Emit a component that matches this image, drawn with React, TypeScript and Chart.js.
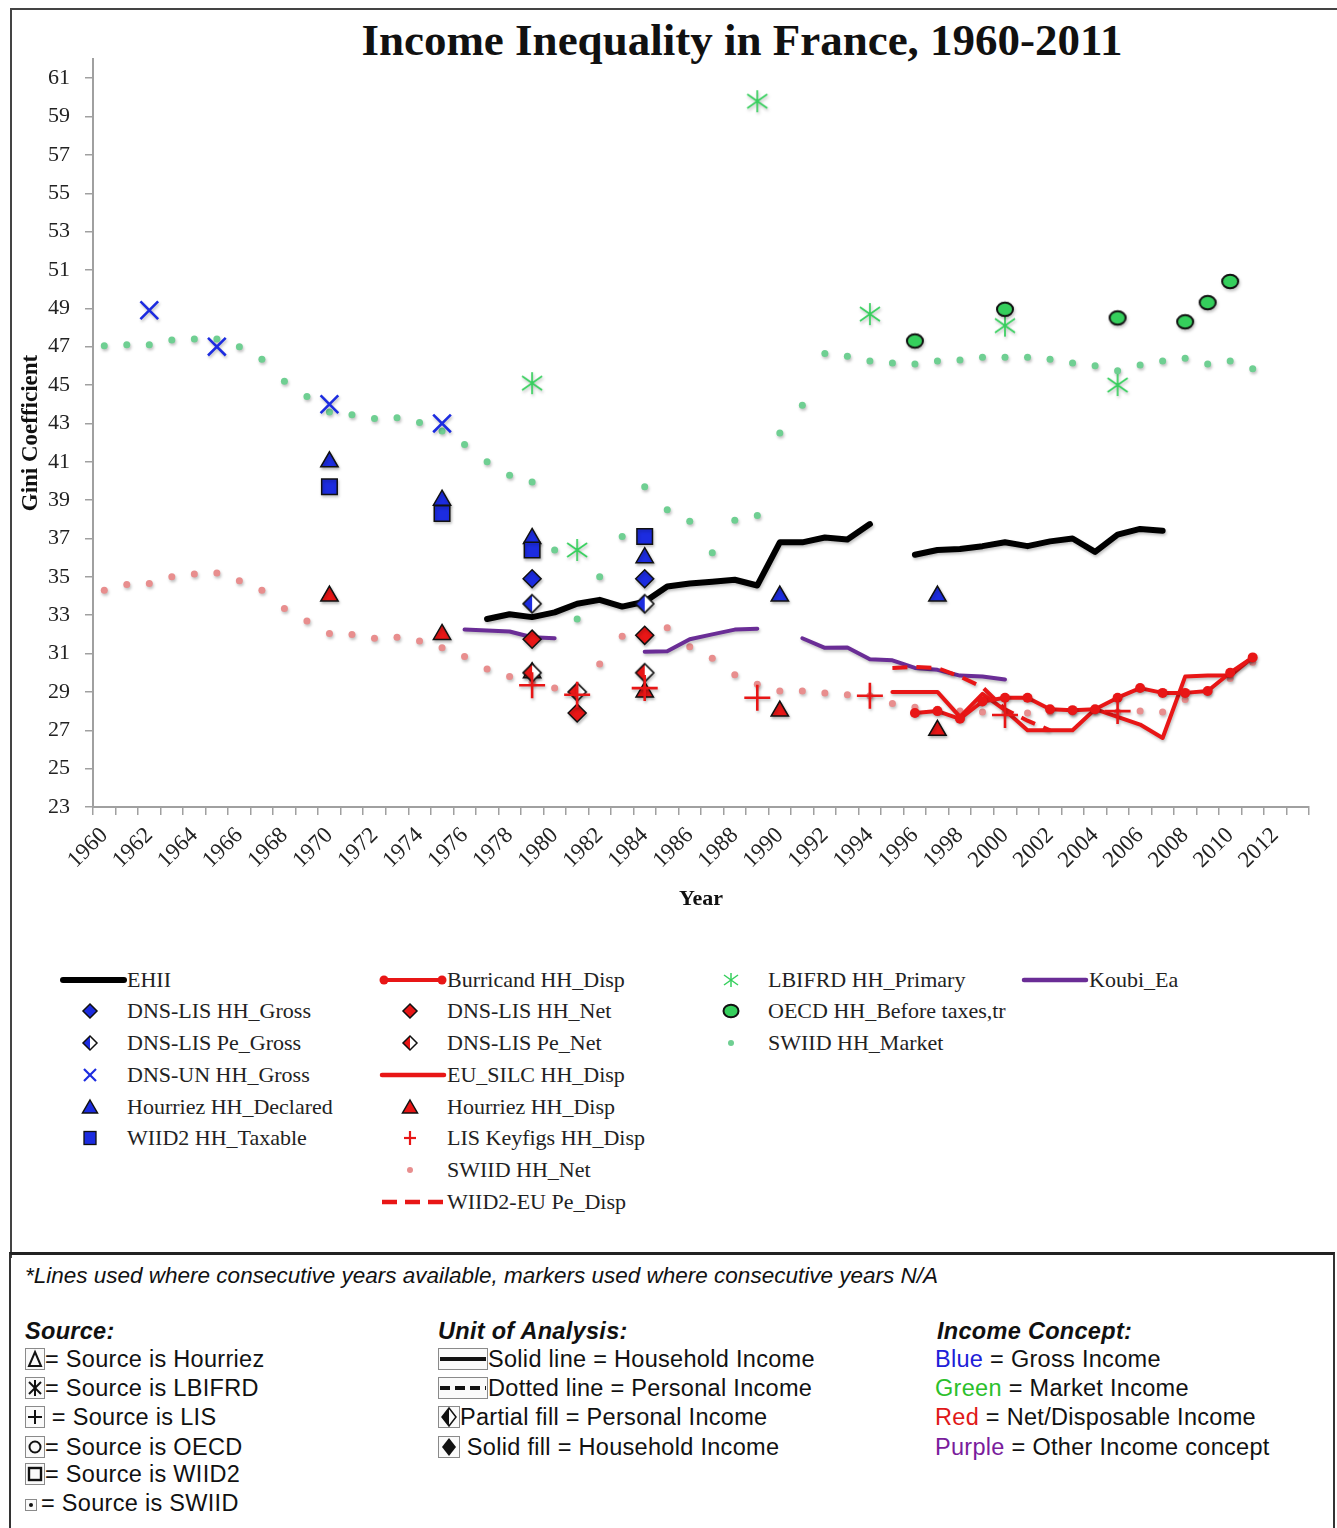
import React, { useEffect, useRef } from 'react';
import { Chart, registerables } from 'chart.js';

Chart.register(...registerables);

// ---------- categories & ticks ----------
const yearLabels = [
  '1960', '1961', '1962', '1963', '1964', '1965', '1966', '1967', '1968', '1969',
  '1970', '1971', '1972', '1973', '1974', '1975', '1976', '1977', '1978', '1979',
  '1980', '1981', '1982', '1983', '1984', '1985', '1986', '1987', '1988', '1989',
  '1990', '1991', '1992', '1993', '1994', '1995', '1996', '1997', '1998', '1999',
  '2000', '2001', '2002', '2003', '2004', '2005', '2006', '2007', '2008', '2009',
  '2010', '2011', '2012', '2013',
];
const yTicks = [23, 25, 27, 29, 31, 33, 35, 37, 39, 41, 43, 45, 47, 49, 51, 53, 55, 57, 59, 61];

// ---------- series ----------
const swiidYears = yearLabels.slice(0, 52);
const swiidMarket = [
  47.05, 47.1, 47.1, 47.35, 47.4, 47.4, 47.0, 46.35, 45.2, 44.4,
  43.6, 43.45, 43.25, 43.3, 43.05, 42.6, 41.9, 41.0, 40.3, 39.95,
  36.4, 32.8, 35.0, 37.1, 39.7, 38.5, 37.9, 36.25, 37.95, 38.2,
  42.5, 43.95, 46.65, 46.5, 46.25, 46.15, 46.1, 46.25, 46.3, 46.45,
  46.45, 46.45, 46.35, 46.15, 46.0, 45.75, 46.05, 46.25, 46.4, 46.1,
  46.25, 45.85,
];
const swiidNet = [
  34.3, 34.6, 34.65, 35.0, 35.15, 35.2, 34.8, 34.3, 33.35, 32.7,
  32.05, 32.0, 31.8, 31.85, 31.65, 31.3, 30.85, 30.2, 29.8, 29.5,
  29.2, 29.1, 30.45, 31.9, 33.8, 32.35, 31.35, 30.75, 29.9, 29.4,
  29.05, 29.05, 28.95, 28.85, 28.8, 28.4, 28.2, 28.1, 28.0, 27.95,
  27.9, 27.9, 27.95, 27.95, 28.0, 27.95, 28.0, 27.95, 28.6, 29.0,
  29.7, 30.55,
];

const ehiiYears = [1977, 1978, 1979, 1980, 1981, 1982, 1983, 1984, 1985, 1986, 1987, 1988, 1989, 1990, 1991, 1992, 1993, 1994, 1995, 1996, 1997, 1998, 1999, 2000, 2001, 2002, 2003, 2004, 2005, 2006, 2007];
const ehiiValues = [32.8, 33.05, 32.9, 33.15, 33.6, 33.8, 33.45, 33.7, 34.5, 34.65, 34.75, 34.85, 34.55, 36.8, 36.8, 37.05, 36.95, 37.75, null, 36.15, 36.4, 36.45, 36.6, 36.8, 36.6, 36.85, 37.0, 36.3, 37.2, 37.5, 37.4];

const koubiYears = [1976, 1977, 1978, 1979, 1980, 1981, 1982, 1983, 1984, 1985, 1986, 1987, 1988, 1989, 1990, 1991, 1992, 1993, 1994, 1995, 1996, 1997, 1998, 1999, 2000];
const koubiValues = [32.25, 32.2, 32.15, 31.85, 31.8, null, null, null, 31.1, 31.12, 31.75, 32.0, 32.25, 32.3, null, 31.8, 31.3, 31.32, 30.7, 30.65, 30.25, 30.15, 29.85, 29.8, 29.65];

const burricandYears = [1996, 1997, 1998, 1999, 2000, 2001, 2002, 2003, 2004, 2005, 2006, 2007, 2008, 2009, 2010, 2011];
const burricandValues = [27.9, 28.0, 27.6, 28.5, 28.7, 28.7, 28.1, 28.05, 28.1, 28.7, 29.2, 28.95, 28.95, 29.05, 30.0, 30.8];

const euSilcYears = [1995, 1996, 1997, 1998, 1999, 2000, 2001, 2002, 2003, 2004, 2005, 2006, 2007, 2008, 2009, 2010, 2011];
const euSilcValues = [29.0, 29.0, 29.0, 27.7, 28.9, 28.05, 27.0, 27.0, 27.0, 28.1, 27.7, 27.3, 26.6, 29.8, 29.85, 29.85, 30.8];

const wiidEuYears = [1995, 1996, 1997, 1998, 1999, 2000, 2001, 2002];
const wiidEuValues = [30.25, 30.3, 30.25, 29.8, 29.25, 28.1, 27.5, 27.0];

const lisYears = [1979, 1981, 1984, 1989, 1994, 2000, 2005];
const lisValues = [29.35, 28.85, 29.2, 28.7, 28.8, 27.8, 28.0];

const hourDispYears = [1970, 1975, 1979, 1984, 1990, 1997];
const hourDispValues = [34.0, 32.0, 30.0, 29.0, 28.0, 27.0];

const hourDeclYears = [1970, 1975, 1979, 1984, 1990, 1997];
const hourDeclValues = [41.0, 39.0, 37.0, 36.0, 34.0, 34.0];

const wiidTaxYears = [1970, 1975, 1979, 1984];
const wiidTaxValues = [39.7, 38.3, 36.4, 37.1];

const lisHhGrossYears = [1979, 1984];
const lisHhGrossValues = [34.9, 34.9];

const lisPeGrossYears = [1979, 1984];
const lisPeGrossValues = [33.6, 33.6];

const lisHhNetYears = [1979, 1981, 1984];
const lisHhNetValues = [31.75, 27.9, 31.95];

const lisPeNetYears = [1979, 1981, 1984];
const lisPeNetValues = [30.0, 29.0, 30.0];

const unGrossYears = [1962, 1965, 1970, 1975];
const unGrossValues = [48.9, 47.0, 44.0, 43.0];

const lbifrdYears = [1979, 1981, 1989, 1994, 2000, 2005];
const lbifrdValues = [45.1, 36.4, 59.8, 48.7, 48.1, 45.0];

const oecdYears = [1996, 2000, 2005, 2008, 2009, 2010];
const oecdValues = [47.3, 48.95, 48.5, 48.3, 49.3, 50.4];

// ---------- colours ----------
const BLUE = '#1c2ce0';
const RED = '#e81616';
const GREEN = '#35cf5c';
const PURPLE = '#6a2d96';
const SWIID_GREEN = '#6fcf92';
const SWIID_PINK = '#e88e8e';
const SERIF = '"Liberation Serif", "Times New Roman", serif';
const SANS = '"Liberation Sans", Arial, sans-serif';

const pts = (years: (number | string)[], vals: (number | null)[]) =>
  years.map((y, i) => ({ x: String(y), y: vals[i] }));

function mkCanvas(w: number, h: number) {
  const c = document.createElement('canvas');
  c.width = w;
  c.height = h;
  return c;
}

function halfDiamond(color: string, r: number) {
  const s = r * 2 + 4;
  const c = mkCanvas(s, s);
  const ctx = c.getContext('2d')!;
  const m = s / 2;
  ctx.beginPath();
  ctx.moveTo(m, m - r);
  ctx.lineTo(m - r, m);
  ctx.lineTo(m, m + r);
  ctx.closePath();
  ctx.fillStyle = color;
  ctx.fill();
  ctx.beginPath();
  ctx.moveTo(m, m - r);
  ctx.lineTo(m + r, m);
  ctx.lineTo(m, m + r);
  ctx.closePath();
  ctx.fillStyle = '#ffffff';
  ctx.fill();
  ctx.beginPath();
  ctx.moveTo(m, m - r);
  ctx.lineTo(m + r, m);
  ctx.lineTo(m, m + r);
  ctx.lineTo(m - r, m);
  ctx.closePath();
  ctx.strokeStyle = '#111';
  ctx.lineWidth = 1.6;
  ctx.stroke();
  return c;
}

function asterisk(color: string) {
  const c = mkCanvas(24, 24);
  const ctx = c.getContext('2d')!;
  ctx.strokeStyle = color;
  ctx.lineWidth = 1.7;
  ctx.beginPath();
  ctx.moveTo(12, 1);
  ctx.lineTo(12, 23);
  ctx.moveTo(2, 5);
  ctx.lineTo(22, 19);
  ctx.moveTo(2, 19);
  ctx.lineTo(22, 5);
  ctx.stroke();
  return c;
}

function ellipseMarker(color: string) {
  const c = mkCanvas(22, 19);
  const ctx = c.getContext('2d')!;
  ctx.beginPath();
  ctx.ellipse(11, 9.5, 8, 6.7, 0, 0, Math.PI * 2);
  ctx.fillStyle = color;
  ctx.fill();
  ctx.lineWidth = 2;
  ctx.strokeStyle = '#111';
  ctx.stroke();
  return c;
}

const shadowPlugin = {
  id: 'softShadow',
  beforeDatasetsDraw(chart: any) {
    const ctx = chart.ctx;
    ctx.save();
    ctx.shadowColor = 'rgba(0,0,0,0.25)';
    ctx.shadowBlur = 3;
    ctx.shadowOffsetX = 1;
    ctx.shadowOffsetY = 2;
  },
  afterDatasetsDraw(chart: any) {
    chart.ctx.restore();
  },
};

// ---------- legend sample drawing ----------
function Sample({ kind, color }: { kind: string; color: string }) {
  const c = 30;
  const m = 12;
  let el: any = null;
  switch (kind) {
    case 'thick':
      el = <line x1={3} y1={m} x2={64} y2={m} stroke={color} strokeWidth={6} strokeLinecap="round" />;
      break;
    case 'line':
      el = <line x1={2} y1={m} x2={64} y2={m} stroke={color} strokeWidth={4.5} strokeLinecap="round" />;
      break;
    case 'lineDots':
      el = (
        <g>
          <line x1={4} y1={m} x2={62} y2={m} stroke={color} strokeWidth={4} />
          <circle cx={4} cy={m} r={4.5} fill={color} />
          <circle cx={62} cy={m} r={4.5} fill={color} />
        </g>
      );
      break;
    case 'dash':
      el = <line x1={2} y1={m} x2={64} y2={m} stroke={color} strokeWidth={4.5} strokeDasharray="15 8" />;
      break;
    case 'diamond':
      el = <polygon points={`${c},${m - 7} ${c + 7},${m} ${c},${m + 7} ${c - 7},${m}`} fill={color} stroke="#111" strokeWidth={1.5} />;
      break;
    case 'half':
      el = (
        <g>
          <polygon points={`${c},${m - 7} ${c},${m + 7} ${c - 7},${m}`} fill={color} />
          <polygon points={`${c},${m - 7} ${c + 7},${m} ${c},${m + 7}`} fill="#fff" />
          <polygon points={`${c},${m - 7} ${c + 7},${m} ${c},${m + 7} ${c - 7},${m}`} fill="none" stroke="#111" strokeWidth={1.5} />
        </g>
      );
      break;
    case 'x':
      el = (
        <g stroke={color} strokeWidth={2.2}>
          <line x1={c - 6} y1={m - 6} x2={c + 6} y2={m + 6} />
          <line x1={c - 6} y1={m + 6} x2={c + 6} y2={m - 6} />
        </g>
      );
      break;
    case 'triangle':
      el = <polygon points={`${c},${m - 7} ${c + 7.5},${m + 6} ${c - 7.5},${m + 6}`} fill={color} stroke="#111" strokeWidth={1.5} />;
      break;
    case 'square':
      el = <rect x={c - 6} y={m - 6.5} width={12} height={13} fill={color} stroke="#111" strokeWidth={1.3} />;
      break;
    case 'plus':
      el = (
        <g stroke={color} strokeWidth={2.2}>
          <line x1={c - 6} y1={m} x2={c + 6} y2={m} />
          <line x1={c} y1={m - 7} x2={c} y2={m + 7} />
        </g>
      );
      break;
    case 'dot':
      el = <circle cx={c} cy={m} r={3} fill={color} />;
      break;
    case 'asterisk':
      el = (
        <g stroke={color} strokeWidth={1.5}>
          <line x1={c} y1={m - 7} x2={c} y2={m + 7} />
          <line x1={c - 7} y1={m - 5} x2={c + 7} y2={m + 5} />
          <line x1={c - 7} y1={m + 5} x2={c + 7} y2={m - 5} />
        </g>
      );
      break;
    case 'ellipse':
      el = <ellipse cx={c} cy={m} rx={7.5} ry={6.3} fill={color} stroke="#111" strokeWidth={2} />;
      break;
  }
  return (
    <svg width={66} height={24} style={{ position: 'absolute', left: 0, top: -12, overflow: 'visible' }}>
      {el}
    </svg>
  );
}

const legendRows = [980, 1011, 1043, 1075, 1107, 1138, 1170, 1202];
const legendCols = [
  {
    x: 60,
    items: [
      { label: 'EHII', kind: 'thick', color: '#000' },
      { label: 'DNS-LIS HH_Gross', kind: 'diamond', color: BLUE },
      { label: 'DNS-LIS Pe_Gross', kind: 'half', color: BLUE },
      { label: 'DNS-UN HH_Gross', kind: 'x', color: BLUE },
      { label: 'Hourriez HH_Declared', kind: 'triangle', color: BLUE },
      { label: 'WIID2 HH_Taxable', kind: 'square', color: BLUE },
    ],
  },
  {
    x: 380,
    items: [
      { label: 'Burricand HH_Disp', kind: 'lineDots', color: RED },
      { label: 'DNS-LIS HH_Net', kind: 'diamond', color: RED },
      { label: 'DNS-LIS Pe_Net', kind: 'half', color: RED },
      { label: 'EU_SILC HH_Disp', kind: 'line', color: RED },
      { label: 'Hourriez HH_Disp', kind: 'triangle', color: RED },
      { label: 'LIS Keyfigs HH_Disp', kind: 'plus', color: RED },
      { label: 'SWIID HH_Net', kind: 'dot', color: SWIID_PINK },
      { label: 'WIID2-EU Pe_Disp', kind: 'dash', color: RED },
    ],
  },
  {
    x: 701,
    items: [
      { label: 'LBIFRD HH_Primary', kind: 'asterisk', color: GREEN },
      { label: 'OECD HH_Before taxes,tr', kind: 'ellipse', color: GREEN },
      { label: 'SWIID HH_Market', kind: 'dot', color: SWIID_GREEN },
    ],
  },
  {
    x: 1022,
    items: [{ label: 'Koubi_Ea', kind: 'line', color: PURPLE }],
  },
];

function Row({ left, cy, children, style }: any) {
  return (
    <div
      style={{
        position: 'absolute',
        left,
        top: cy - 14,
        height: 28,
        lineHeight: '28px',
        whiteSpace: 'nowrap',
        ...style,
      }}
    >
      {children}
    </div>
  );
}

function IconBox({ w, children }: any) {
  return (
    <svg width={w} height={22} style={{ verticalAlign: 'middle', marginTop: -3 }}>
      <rect x={0.5} y={0.5} width={w - 1} height={21} fill="#fafafa" stroke="#8a8a8a" strokeWidth={1} />
      {children}
    </svg>
  );
}

export default function App() {
  const canvasRef = useRef<HTMLCanvasElement | null>(null);

  useEffect(() => {
    const canvas = canvasRef.current;
    if (!canvas) return;

    const halfBlue = halfDiamond(BLUE, 9);
    const halfRed = halfDiamond(RED, 9);
    const star = asterisk(GREEN);
    const oecdMark = ellipseMarker(GREEN);

    const marker = (label: string, years: number[], vals: number[], style: any, color: string, radius: number, extra: any = {}) => ({
      label,
      data: pts(years, vals),
      showLine: false,
      pointStyle: style,
      pointRadius: radius,
      pointHoverRadius: radius,
      pointBackgroundColor: color,
      pointBorderColor: '#111',
      pointBorderWidth: 1.5,
      ...extra,
    });

    const line = (label: string, years: (number | string)[], vals: (number | null)[], color: string, width: number, extra: any = {}) => ({
      label,
      data: pts(years, vals),
      borderColor: color,
      backgroundColor: color,
      borderWidth: width,
      pointRadius: 0,
      pointHoverRadius: 0,
      spanGaps: false,
      fill: false,
      tension: 0,
      borderJoinStyle: 'round',
      borderCapStyle: 'round',
      ...extra,
    });

    const datasets: any[] = [
      marker('LIS Keyfigs HH_Disp', lisYears, lisValues, 'cross', RED, 13, { pointBorderColor: RED, pointBorderWidth: 2.6 }),
      marker('DNS-LIS Pe_Net', lisPeNetYears, lisPeNetValues, halfRed, RED, 9),
      marker('DNS-LIS HH_Net', lisHhNetYears, lisHhNetValues, 'rectRot', RED, 9),
      marker('Hourriez HH_Disp', hourDispYears, hourDispValues, 'triangle', RED, 10),
      marker('DNS-LIS Pe_Gross', lisPeGrossYears, lisPeGrossValues, halfBlue, BLUE, 9),
      marker('DNS-LIS HH_Gross', lisHhGrossYears, lisHhGrossValues, 'rectRot', BLUE, 9),
      marker('WIID2 HH_Taxable', wiidTaxYears, wiidTaxValues, 'rect', BLUE, 11),
      marker('Hourriez HH_Declared', hourDeclYears, hourDeclValues, 'triangle', BLUE, 10),
      marker('DNS-UN HH_Gross', unGrossYears, unGrossValues, 'crossRot', BLUE, 12.5, { pointBorderColor: BLUE, pointBorderWidth: 2.6 }),
      marker('OECD HH_Before taxes,tr', oecdYears, oecdValues, oecdMark, GREEN, 8),
      marker('LBIFRD HH_Primary', lbifrdYears, lbifrdValues, star, GREEN, 11),
      line('Burricand HH_Disp', burricandYears, burricandValues, RED, 4, {
        pointRadius: 5,
        pointStyle: 'circle',
        pointBackgroundColor: RED,
        pointBorderColor: RED,
        pointBorderWidth: 0,
      }),
      line('EU_SILC HH_Disp', euSilcYears, euSilcValues, RED, 4),
      line('WIID2-EU Pe_Disp', wiidEuYears, wiidEuValues, RED, 4, { borderDash: [15, 9], borderCapStyle: 'butt' }),
      line('EHII', ehiiYears, ehiiValues, '#000', 6),
      line('Koubi_Ea', koubiYears, koubiValues, PURPLE, 4),
      marker('SWIID HH_Market', swiidYears as any, swiidMarket, 'circle', SWIID_GREEN, 3.5, { pointBorderWidth: 0, pointBorderColor: SWIID_GREEN }),
      marker('SWIID HH_Net', swiidYears as any, swiidNet, 'circle', SWIID_PINK, 3.5, { pointBorderWidth: 0, pointBorderColor: SWIID_PINK }),
    ];

    const tickFont = { family: SERIF, size: 22 };
    const axisColor = '#a0a0a0';

    const chart = new Chart(canvas, {
      type: 'line',
      data: { labels: yearLabels, datasets },
      plugins: [shadowPlugin],
      options: {
        responsive: false,
        animation: false,
        events: [],
        layout: { padding: { top: 47, right: 28, bottom: 0, left: 0 } },
        plugins: {
          legend: { display: false },
          tooltip: { enabled: false },
          title: { display: false },
        },
        scales: {
          x: {
            type: 'category',
            offset: true,
            grid: {
              offset: true,
              drawOnChartArea: false,
              drawTicks: true,
              tickLength: 8,
              color: axisColor,
              lineWidth: 1.5,
            },
            border: { display: true, color: axisColor, width: 2 },
            ticks: {
              autoSkip: false,
              maxRotation: 45,
              minRotation: 45,
              padding: 7,
              color: '#222',
              font: { family: SERIF, size: 23 },
              callback: (_v: any, i: number) => (Number(yearLabels[i]) % 2 === 0 ? yearLabels[i] : ''),
            },
            title: {
              display: true,
              text: 'Year',
              color: '#111',
              font: { family: SERIF, size: 22, weight: 'bold' },
              padding: { top: 0, bottom: 4 },
            },
            afterFit: (s: any) => {
              s.height = 110;
            },
          },
          y: {
            type: 'linear',
            min: 23,
            max: 62,
            afterBuildTicks: (s: any) => {
              s.ticks = yTicks.map((v) => ({ value: v }));
            },
            grid: {
              drawOnChartArea: false,
              drawTicks: true,
              tickLength: 8,
              color: axisColor,
              lineWidth: 1.5,
            },
            border: { display: true, color: axisColor, width: 2 },
            ticks: {
              padding: 15,
              color: '#222',
              font: tickFont,
            },
            title: {
              display: true,
              text: 'Gini Coefficient',
              color: '#111',
              font: { family: SERIF, size: 23, weight: 'bold' },
              padding: { top: 5, bottom: 0 },
            },
            afterFit: (s: any) => {
              s.width = 81;
            },
          },
        },
      } as any,
    });

    return () => {
      chart.destroy();
    };
  }, []);

  const legendFont = { fontFamily: SERIF, fontSize: 22, color: '#222' };
  const noteFont = { fontFamily: SANS, fontSize: 23.5, color: '#111', letterSpacing: '0.3px' };

  return (
    <div
      style={{
        position: 'absolute',
        left: 0,
        top: 0,
        width: 1337,
        height: 1528,
        background: '#fff',
        overflow: 'hidden',
      }}
    >
      {/* outer frame */}
      <div
        style={{
          position: 'absolute',
          left: 10,
          top: 8,
          width: 1340,
          height: 1250,
          borderTop: '2px solid #444',
          borderLeft: '2px solid #444',
          boxSizing: 'border-box',
        }}
      />

      {/* title */}
      <div
        style={{
          position: 'absolute',
          left: 342,
          top: 16,
          width: 800,
          height: 48,
          lineHeight: '48px',
          textAlign: 'center',
          fontFamily: SERIF,
          fontWeight: 'bold',
          fontSize: 45,
          color: '#111',
          whiteSpace: 'nowrap',
        }}
      >
        Income Inequality in France, 1960-2011
      </div>

      <canvas ref={canvasRef} width={1325} height={905} style={{ position: 'absolute', left: 12, top: 12 }} />

      {/* legend */}
      {legendCols.map((col) =>
        col.items.map((it, i) => (
          <div key={col.x + '-' + i} style={{ position: 'absolute', left: col.x, top: legendRows[i], width: 400, height: 0 }}>
            <Sample kind={it.kind} color={it.color} />
            <Row left={67} cy={0} style={legendFont}>
              {it.label}
            </Row>
          </div>
        ))
      )}

      {/* footnote box */}
      <div
        style={{
          position: 'absolute',
          left: 9,
          top: 1252,
          width: 1326,
          height: 300,
          borderTop: '3px solid #222',
          borderLeft: '2px solid #333',
          borderRight: '2px solid #333',
          boxSizing: 'border-box',
        }}
      />
      <Row left={25} cy={1276} style={{ ...noteFont, fontSize: 22.5, letterSpacing: '0px', fontStyle: 'italic' }}>
        *Lines used where consecutive years available, markers used where consecutive years N/A
      </Row>

      <Row left={25} cy={1331} style={{ ...noteFont, fontStyle: 'italic', fontWeight: 'bold' }}>
        Source:
      </Row>
      <Row left={25} cy={1359} style={noteFont}>
        <IconBox w={20}>
          <polygon points="10,4 16,18 4,18" fill="none" stroke="#111" strokeWidth={2} />
        </IconBox>
        = Source is Hourriez
      </Row>
      <Row left={25} cy={1388} style={noteFont}>
        <IconBox w={20}>
          <g stroke="#111" strokeWidth={2}>
            <line x1={10} y1={3} x2={10} y2={19} />
            <line x1={4} y1={5} x2={16} y2={17} />
            <line x1={4} y1={17} x2={16} y2={5} />
          </g>
        </IconBox>
        = Source is LBIFRD
      </Row>
      <Row left={25} cy={1417} style={noteFont}>
        <IconBox w={20}>
          <g stroke="#111" strokeWidth={2}>
            <line x1={10} y1={4} x2={10} y2={18} />
            <line x1={3} y1={11} x2={17} y2={11} />
          </g>
        </IconBox>
        {' '}= Source is LIS
      </Row>
      <Row left={25} cy={1447} style={noteFont}>
        <IconBox w={20}>
          <circle cx={10} cy={11} r={5.5} fill="none" stroke="#111" strokeWidth={2} />
        </IconBox>
        = Source is OECD
      </Row>
      <Row left={25} cy={1474} style={noteFont}>
        <IconBox w={20}>
          <rect x={4} y={5} width={12} height={12} fill="none" stroke="#111" strokeWidth={2.4} />
        </IconBox>
        = Source is WIID2
      </Row>
      <Row left={25} cy={1503} style={noteFont}>
        <svg width={12} height={12} style={{ verticalAlign: 'middle', marginRight: 4 }}>
          <rect x={0.5} y={0.5} width={11} height={11} fill="#fafafa" stroke="#8a8a8a" />
          <circle cx={6} cy={6} r={2} fill="#111" />
        </svg>
        = Source is SWIID
      </Row>

      <Row left={438} cy={1331} style={{ ...noteFont, fontStyle: 'italic', fontWeight: 'bold' }}>
        Unit of Analysis:
      </Row>
      <Row left={438} cy={1359} style={noteFont}>
        <IconBox w={50}>
          <line x1={2} y1={11} x2={48} y2={11} stroke="#111" strokeWidth={4} />
        </IconBox>
        Solid line = Household Income
      </Row>
      <Row left={438} cy={1388} style={noteFont}>
        <IconBox w={50}>
          <line x1={2} y1={11} x2={48} y2={11} stroke="#111" strokeWidth={4} strokeDasharray="10 5" />
        </IconBox>
        Dotted line = Personal Income
      </Row>
      <Row left={438} cy={1417} style={noteFont}>
        <IconBox w={22}>
          <polygon points="11,2 11,20 4,11" fill="#111" />
          <polygon points="11,2 18,11 11,20 4,11" fill="none" stroke="#111" strokeWidth={1.5} />
        </IconBox>
        Partial fill = Personal Income
      </Row>
      <Row left={438} cy={1447} style={noteFont}>
        <IconBox w={22}>
          <polygon points="11,2 18,11 11,20 4,11" fill="#111" />
        </IconBox>
        {' '}Solid fill = Household Income
      </Row>

      <Row left={937} cy={1331} style={{ ...noteFont, fontStyle: 'italic', fontWeight: 'bold' }}>
        Income Concept:
      </Row>
      <Row left={935} cy={1359} style={noteFont}>
        <span style={{ color: '#2020d8' }}>Blue</span> = Gross Income
      </Row>
      <Row left={935} cy={1388} style={noteFont}>
        <span style={{ color: '#2bc02b' }}>Green</span> = Market Income
      </Row>
      <Row left={935} cy={1417} style={noteFont}>
        <span style={{ color: '#e01818' }}>Red</span> = Net/Disposable Income
      </Row>
      <Row left={935} cy={1447} style={noteFont}>
        <span style={{ color: '#7a1c9c' }}>Purple</span> = Other Income concept
      </Row>
    </div>
  );
}
